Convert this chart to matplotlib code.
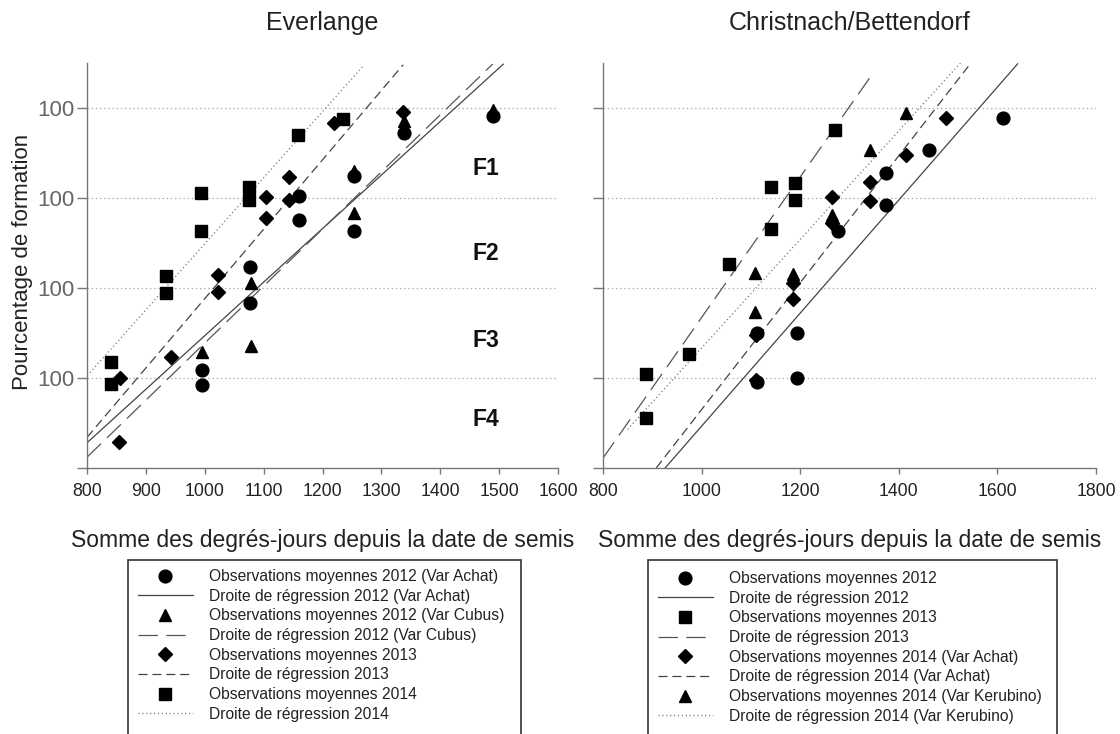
import matplotlib
matplotlib.use("Agg")

import matplotlib.pyplot as plt
from matplotlib.lines import Line2D
from matplotlib.patches import Rectangle
import numpy as np

plt.rcParams["font.family"] = ["Liberation Sans", "DejaVu Sans"]
plt.rcParams["lines.scale_dashes"] = False

# ---------------------------------------------------------------------------
# Data (y in stage-band units: 0 = axis bottom, each band = one "100" gridline)
# ---------------------------------------------------------------------------
band_ticks = [0, 1, 2, 3, 4]
band_labels = ["", "100", "100", "100", "100"]
stage_names = ["F4", "F3", "F2", "F1"]
stage_y = [0.54, 1.42, 2.38, 3.33]

# Everlange
ev_achat12_x = [996, 996, 1077, 1077, 1160, 1160, 1254, 1254, 1339, 1489]
ev_achat12_y = [1.09, 0.92, 2.23, 1.83, 3.02, 2.76, 3.24, 2.63, 3.72, 3.91]
ev_cubus12_x = [996, 1079, 1079, 1254, 1254, 1339, 1489]
ev_cubus12_y = [1.29, 2.06, 1.36, 3.30, 2.83, 3.86, 3.98]
ev_2013_x = [856, 855, 943, 1023, 1023, 1104, 1104, 1143, 1143, 1220, 1337]
ev_2013_y = [1.00, 0.29, 1.23, 2.14, 1.96, 3.01, 2.78, 3.23, 2.98, 3.83, 3.96]
ev_2014_x = [841, 841, 934, 934, 994, 994, 1075, 1075, 1159, 1235]
ev_2014_y = [1.18, 0.93, 2.13, 1.94, 3.06, 2.63, 3.12, 2.98, 3.70, 3.88]

# Christnach/Bettendorf
ch_2012_x = [1113, 1113, 1194, 1194, 1277, 1375, 1375, 1462, 1612]
ch_2012_y = [1.50, 0.96, 1.50, 1.00, 2.63, 2.92, 3.28, 3.53, 3.89]
ch_2013_x = [887, 887, 975, 1056, 1141, 1141, 1190, 1190, 1271]
ch_2013_y = [1.04, 0.56, 1.27, 2.27, 3.12, 2.66, 3.17, 2.98, 3.76]
ch_achat14_x = [1111, 1111, 1186, 1186, 1265, 1265, 1342, 1342, 1415, 1496]
ch_achat14_y = [0.98, 1.48, 2.06, 1.88, 3.01, 2.72, 3.18, 2.97, 3.48, 3.89]
ch_keru14_x = [1109, 1109, 1186, 1265, 1342, 1415]
ch_keru14_y = [2.17, 1.73, 2.16, 2.81, 3.53, 3.94]

# regression lines: intercept, slope, x range
ev_fit_a = [-4.480, -4.952, -5.828, -4.849]
ev_fit_b = [0.00595, 0.00634, 0.00771, 0.00734]
ev_fit_x0 = [800, 800, 800, 805]
ev_fit_x1 = [1507, 1489, 1337, 1268]

ch_fit_a = [-5.815, -6.138, -6.401, -4.696]
ch_fit_b = [0.00628, 0.00781, 0.00705, 0.00603]
ch_fit_x0 = [926, 800, 908, 850]
ch_fit_x1 = [1641, 1348, 1541, 1525]

ev_labels = [
    "Observations moyennes 2012 (Var Achat)",
    "Droite de régression 2012 (Var Achat)",
    "Observations moyennes 2012 (Var Cubus)",
    "Droite de régression 2012 (Var Cubus)",
    "Observations moyennes 2013",
    "Droite de régression 2013",
    "Observations moyennes 2014",
    "Droite de régression 2014",
]
ch_labels = [
    "Observations moyennes 2012",
    "Droite de régression 2012",
    "Observations moyennes 2013",
    "Droite de régression 2013",
    "Observations moyennes 2014 (Var Achat)",
    "Droite de régression 2014 (Var Achat)",
    "Observations moyennes 2014 (Var Kerubino)",
    "Droite de régression 2014 (Var Kerubino)",
]

# ---------------------------------------------------------------------------
# Styles
# ---------------------------------------------------------------------------
MK = {"o": 9.2, "^": 9.0, "D": 6.8, "s": 8.4}
LINE_STYLES = [
    dict(ls="-", color="#444444", lw=0.9),
    dict(ls=(0, (14, 6)), color="#555555", lw=0.9),
    dict(ls=(0, (6.5, 3.5)), color="#444444", lw=0.9),
    dict(ls=(0, (0.8, 2.0)), color="#777777", lw=1.0),
]
W, H = 1120, 734


def style_axes(ax, xmin, xmax, xstep, show_ylabels):
    ax.set_xlim(xmin, xmax)
    ax.set_ylim(0, 4.5)
    ax.set_xticks(np.arange(xmin, xmax + 1, xstep))
    ax.set_yticks(band_ticks)
    ax.set_yticklabels(band_labels if show_ylabels else [""] * len(band_ticks))
    for s in ["top", "right"]:
        ax.spines[s].set_visible(False)
    for s in ["left", "bottom"]:
        ax.spines[s].set_color("#777777")
        ax.spines[s].set_linewidth(1.0)
    ax.tick_params(axis="y", direction="out", length=7, width=1.0, color="#777777",
                   pad=2, labelsize=16, labelcolor="#666666")
    ax.tick_params(axis="x", direction="out", length=4, width=1.0, color="#777777",
                   pad=7, labelsize=12.7, labelcolor="#222222")
    for yv in band_ticks[1:]:
        ax.axhline(yv, color="#aaaaaa", lw=0.9, ls=(0, (1, 2)), zorder=0)
    ax.set_xlabel("Somme des degrés-jours depuis la date de semis", fontsize=16.5,
                  color="#222222")
    ax.xaxis.set_label_coords(0.5, -0.178)
    ax.xaxis.label.set_verticalalignment("center")


def draw_fits(ax, a, b, x0, x1):
    for i in range(len(a)):
        xs = np.array([x0[i], x1[i]])
        ax.plot(xs, a[i] + b[i] * xs, **LINE_STYLES[i], zorder=2)


def scatter(ax, x, y, marker):
    ax.plot(x, y, ls="none", marker=marker, ms=MK[marker], color="black",
            mec="black", zorder=3)


fig = plt.figure(figsize=(W / 100, H / 100), dpi=100)
ax1 = fig.add_axes([87 / W, 1 - 468 / H, 471 / W, 405 / H])
ax2 = fig.add_axes([603 / W, 1 - 468 / H, 493 / W, 405 / H])

# ---------------------------------------------------------------------------
# Everlange
# ---------------------------------------------------------------------------
style_axes(ax1, 800, 1600, 100, True)
draw_fits(ax1, ev_fit_a, ev_fit_b, ev_fit_x0, ev_fit_x1)
scatter(ax1, ev_achat12_x, ev_achat12_y, "o")
scatter(ax1, ev_cubus12_x, ev_cubus12_y, "^")
scatter(ax1, ev_2013_x, ev_2013_y, "D")
scatter(ax1, ev_2014_x, ev_2014_y, "s")
for name, yv in zip(stage_names, stage_y):
    ax1.text(1477, yv, name, fontsize=16.5, fontweight="bold", ha="center",
             va="center", color="#111111")
ax1.set_title("Everlange", fontsize=18, pad=24, color="#222222")
ax1.set_ylabel("Pourcentage de formation", fontsize=16, color="#222222")
ax1.yaxis.set_label_coords(-0.138, 0.51)
ax1.yaxis.label.set_verticalalignment("center")

# ---------------------------------------------------------------------------
# Christnach/Bettendorf
# ---------------------------------------------------------------------------
style_axes(ax2, 800, 1800, 200, False)
draw_fits(ax2, ch_fit_a, ch_fit_b, ch_fit_x0, ch_fit_x1)
scatter(ax2, ch_2012_x, ch_2012_y, "o")
scatter(ax2, ch_2013_x, ch_2013_y, "s")
scatter(ax2, ch_achat14_x, ch_achat14_y, "D")
scatter(ax2, ch_keru14_x, ch_keru14_y, "^")
ax2.set_title("Christnach/Bettendorf", fontsize=18, pad=24, color="#222222")

# ---------------------------------------------------------------------------
# Legends (frames run off the bottom edge)
# ---------------------------------------------------------------------------
def legend_handles(markers):
    hs = []
    for i, m in enumerate(markers):
        hs.append(Line2D([], [], ls="none", marker=m, ms=MK[m], color="black"))
        hs.append(Line2D([], [], **LINE_STYLES[i]))
    return hs


def add_legend(handles, labels, handle_left, top, box_left, box_right):
    fig.legend(handles, labels, loc="upper left",
               bbox_to_anchor=(handle_left / W, 1 - top / H),
               frameon=False, borderpad=0, borderaxespad=0, fontsize=11.25,
               handlelength=3.5, handletextpad=1.05, labelspacing=0.30,
               labelcolor="#222222")
    fig.patches.append(Rectangle((box_left / W, -0.05), (box_right - box_left) / W,
                                 (H - 560) / H + 0.05, transform=fig.transFigure,
                                 fill=False, ec="#333333", lw=1.2))


add_legend(legend_handles(["o", "^", "D", "s"]), ev_labels, 138, 569, 128, 521)
add_legend(legend_handles(["o", "s", "D", "^"]), ch_labels, 658, 571, 648, 1057)

fig.savefig("out.png", dpi=100, facecolor="white")
